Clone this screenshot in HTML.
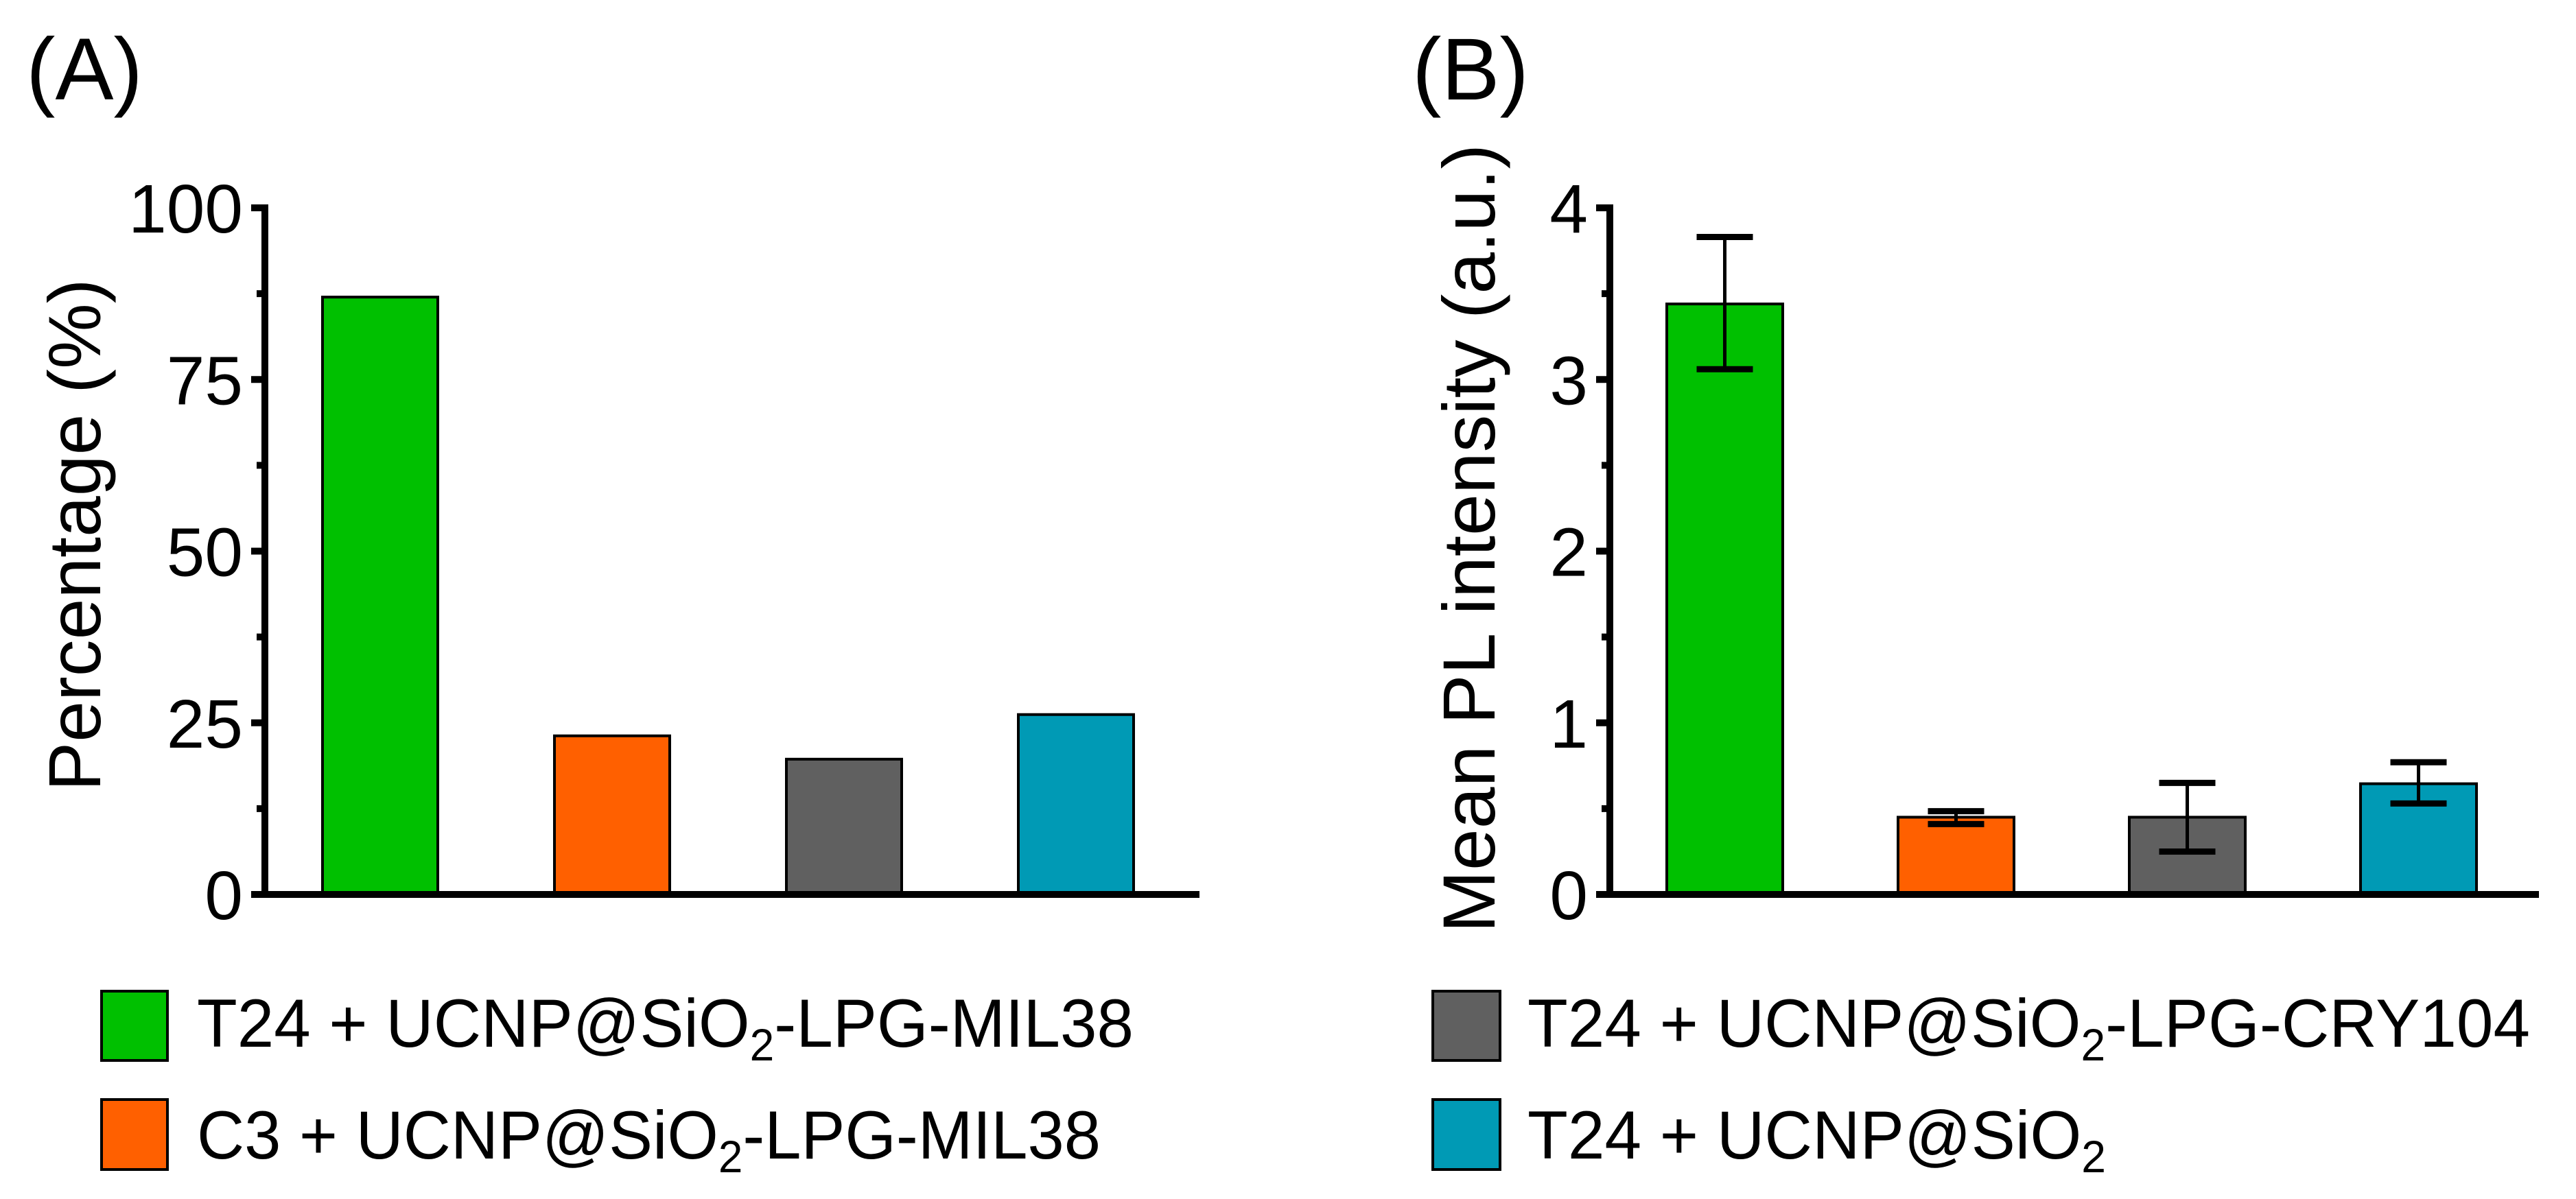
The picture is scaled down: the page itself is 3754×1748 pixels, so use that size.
<!DOCTYPE html>
<html><head><meta charset="utf-8"><style>
html,body{margin:0;padding:0;background:#fff}
svg{display:block;font-family:"Liberation Sans",Arial,sans-serif}
</style></head><body>
<svg id="fig" width="3754" height="1748" viewBox="0 0 3754 1748" xmlns="http://www.w3.org/2000/svg">
<rect width="3754" height="1748" fill="#fff"/>
<text x="38" y="145" font-size="128" textLength="170" lengthAdjust="spacingAndGlyphs">(A)</text>
<text x="2058" y="145" font-size="128" textLength="170" lengthAdjust="spacingAndGlyphs">(B)</text>
<text transform="translate(146,780) rotate(-90)" text-anchor="middle" font-size="108" textLength="747" lengthAdjust="spacingAndGlyphs">Percentage (%)</text>
<text transform="translate(2178,785) rotate(-90)" text-anchor="middle" font-size="108" textLength="1150" lengthAdjust="spacingAndGlyphs">Mean PL intensity (a.u.)</text>
<g id="chartA"></g>
<g id="chartB"></g>
<g font-size="99">
 <g><rect x="148" y="1445" width="96" height="101" fill="#00c000" stroke="#000" stroke-width="4"/><text x="287" y="1526" textLength="1365" lengthAdjust="spacingAndGlyphs">T24 + UCNP@SiO<tspan font-size="66" dy="20">2</tspan><tspan dy="-20">-LPG-MIL38</tspan></text></g>
 <g><rect x="148" y="1603" width="96" height="102" fill="#ff6000" stroke="#000" stroke-width="4"/><text x="287" y="1689" textLength="1317" lengthAdjust="spacingAndGlyphs">C3 + UCNP@SiO<tspan font-size="66" dy="20">2</tspan><tspan dy="-20">-LPG-MIL38</tspan></text></g>
 <g><rect x="2088" y="1445" width="98" height="101" fill="#606060" stroke="#000" stroke-width="4"/><text x="2226" y="1526" textLength="1461" lengthAdjust="spacingAndGlyphs">T24 + UCNP@SiO<tspan font-size="66" dy="20">2</tspan><tspan dy="-20">-LPG-CRY104</tspan></text></g>
 <g><rect x="2088" y="1603" width="98" height="102" fill="#009ab5" stroke="#000" stroke-width="4"/><text x="2226" y="1689" textLength="843" lengthAdjust="spacingAndGlyphs">T24 + UCNP@SiO<tspan font-size="66" dy="20">2</tspan></text></g>
</g>
</svg>
<script>
const categories = ["T24 + MIL38", "C3 + MIL38", "T24 + CRY104", "T24 + SiO2"];
const colors = ["#00c000", "#ff6000", "#606060", "#009ab5"];
const valuesA = [87.0, 23.1, 19.7, 26.2];
const ticksA = [0, 25, 50, 75, 100];
const valuesB = [3.44, 0.45, 0.45, 0.645];
const errLowB = [3.06, 0.41, 0.25, 0.53];
const errHighB = [3.83, 0.485, 0.65, 0.77];
const ticksB = [0, 1, 2, 3, 4];

const NS = "http://www.w3.org/2000/svg";
function mk(parent, tag, attrs) {
  const e = document.createElementNS(NS, tag);
  for (const k in attrs) e.setAttribute(k, attrs[k]);
  parent.appendChild(e);
  return e;
}
function drawChart(g, axX, axEnd, firstBar, step, bw, maxV, vals, ticks, lo, hi, tag) {
  const y0 = 1304, yTop = 303;
  const y = v => y0 - (v / maxV) * (y0 - yTop);
  vals.forEach((v, i) => {
    const x = firstBar + i * step;
    const r = mk(g, "rect", {x: x, y: y(v), width: bw, height: y0 - y(v), fill: colors[i], stroke: "#000", "stroke-width": 4});
    
    
    if (lo) {
      const cx = x + bw / 2;
      const eg = mk(g, "g", {stroke: "#000"});
      
      
      mk(eg, "line", {x1: cx, x2: cx, y1: y(lo[i]), y2: y(hi[i]), "stroke-width": 5});
      mk(eg, "line", {x1: cx - 41, x2: cx + 41, y1: y(lo[i]), y2: y(lo[i]), "stroke-width": 9});
      mk(eg, "line", {x1: cx - 41, x2: cx + 41, y1: y(hi[i]), y2: y(hi[i]), "stroke-width": 9});
    }
  });
  const ax = mk(g, "g", {stroke: "#000", "stroke-width": 10});
  
  
  mk(ax, "line", {x1: axX, x2: axX, y1: yTop - 5, y2: y0 + 5});
  mk(ax, "line", {x1: axX - 20, x2: axEnd, y1: y0, y2: y0});
  ticks.forEach((t, i) => {
    mk(ax, "line", {x1: axX - 20, x2: axX, y1: y(t), y2: y(t)});
    if (i < ticks.length - 1) {
      const m = (t + ticks[i + 1]) / 2;
      mk(ax, "line", {x1: axX - 12, x2: axX, y1: y(m), y2: y(m)});
    }
    const tx = mk(g, "text", {x: axX - 32, y: y(t) + 36, "text-anchor": "end", "font-size": 100});
    tx.textContent = t;
    
    
  });
}
drawChart(document.getElementById("chartA"), 386, 1748, 470, 338, 168, 100, valuesA, ticksA, null, null, "a");
drawChart(document.getElementById("chartB"), 2346, 3700, 2429, 337, 169, 4, valuesB, ticksB, errLowB, errHighB, "b");
</script>
</body></html>
